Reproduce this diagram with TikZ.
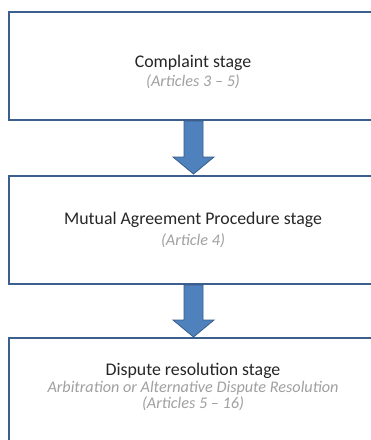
\documentclass[tikz,border=0pt]{standalone}
\usepackage{fontspec}
\setmainfont{Carlito}
\definecolor{boxline}{HTML}{3D5F8E}
\definecolor{arrfill}{HTML}{4F81BD}
\definecolor{arrline}{HTML}{385D8A}
\definecolor{subgray}{HTML}{A0A0A0}
\begin{document}
\begin{tikzpicture}[x=1pt,y=-1pt,
  stagebox/.style={draw=boxline,line width=2pt,fill=white},
  title/.style={font=\fontsize{17.8}{21}\selectfont,text=black!85,inner sep=0pt},
  sub/.style={font=\fontsize{16.2}{18}\selectfont\itshape,text=subgray,inner sep=0pt,align=center},
  blockarrow/.style={fill=arrfill,draw=arrline,line width=0.8pt}]
\useasboundingbox (0,0) rectangle (371,440);
\fill[white] (0,0) rectangle (371,440);
% boxes
\draw[stagebox] (9,12) rectangle (377,120);
\draw[stagebox] (9,176) rectangle (377,284);
\draw[stagebox] (9,338) rectangle (377,450);
% arrows
\draw[blockarrow] (184,121) -- (203,121) -- (203,157) -- (214,157) -- (193.5,174) -- (173,157) -- (184,157) -- cycle;
\draw[blockarrow] (184,285) -- (203,285) -- (203,320) -- (214,320) -- (193.5,337) -- (173,320) -- (184,320) -- cycle;
% texts
\node[title] (c1) at (193,63) {Complaint stage};
\node[sub] (s1) at (193,82) {(Articles 3 -- 5)};
\node[title] (c2) at (193,220) {Mutual Agreement Procedure stage};
\node[sub] (s2) at (193,241) {(Article 4)};
\node[title] (c3) at (193,371) {Dispute resolution stage};
\node[sub] (s3) at (193,388) {Arbitration or Alternative Dispute Resolution};
\node[sub] (s4) at (193,404) {(Articles 5 -- 16)};
\end{tikzpicture}
\end{document}
